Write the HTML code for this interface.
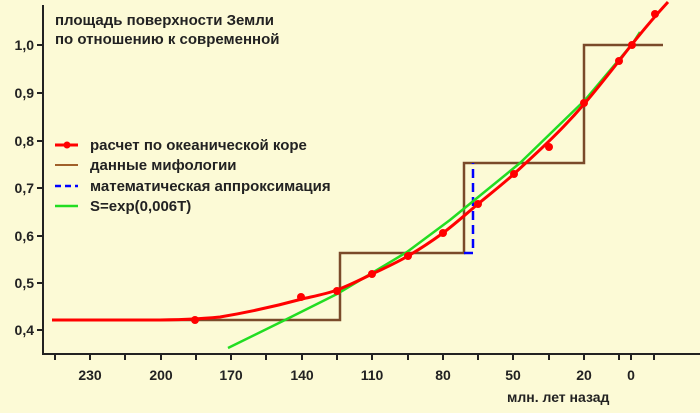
<!DOCTYPE html>
<html><head><meta charset="utf-8"><style>
body{margin:0;background:#fcfad6;}
svg{display:block;font-family:"Liberation Sans",sans-serif;font-weight:bold;}
</style></head><body>
<svg width="700" height="413" viewBox="0 0 700 413">
<rect width="700" height="413" fill="#fcfad6"/>
<line x1="43" y1="5" x2="43" y2="354" stroke="#222" stroke-width="2"/>
<line x1="42" y1="354" x2="700" y2="354" stroke="#222" stroke-width="2"/>
<g stroke="#222" stroke-width="2">
<line x1="37" y1="330" x2="43" y2="330"/><line x1="37" y1="283" x2="43" y2="283"/>
<line x1="37" y1="236" x2="43" y2="236"/><line x1="37" y1="188" x2="43" y2="188"/>
<line x1="37" y1="141" x2="43" y2="141"/><line x1="37" y1="93" x2="43" y2="93"/>
<line x1="37" y1="45" x2="43" y2="45"/>
<line x1="55" y1="354" x2="55" y2="360"/><line x1="90" y1="354" x2="90" y2="360"/>
<line x1="125" y1="354" x2="125" y2="360"/><line x1="161" y1="354" x2="161" y2="360"/>
<line x1="196" y1="354" x2="196" y2="360"/><line x1="231" y1="354" x2="231" y2="360"/>
<line x1="266" y1="354" x2="266" y2="360"/><line x1="302" y1="354" x2="302" y2="360"/>
<line x1="337" y1="354" x2="337" y2="360"/><line x1="372" y1="354" x2="372" y2="360"/>
<line x1="408" y1="354" x2="408" y2="360"/><line x1="443" y1="354" x2="443" y2="360"/>
<line x1="478" y1="354" x2="478" y2="360"/><line x1="513" y1="354" x2="513" y2="360"/>
<line x1="549" y1="354" x2="549" y2="360"/><line x1="584" y1="354" x2="584" y2="360"/>
<line x1="619" y1="354" x2="619" y2="360"/><line x1="631" y1="354" x2="631" y2="360"/>
<line x1="654" y1="354" x2="654" y2="360"/>
</g>
<g font-size="14" fill="#222" text-anchor="end">
<text x="34" y="335">0,4</text><text x="34" y="288">0,5</text><text x="34" y="241">0,6</text>
<text x="34" y="193">0,7</text><text x="34" y="146">0,8</text><text x="34" y="98">0,9</text>
<text x="34" y="50">1,0</text>
</g>
<g font-size="14" fill="#222" text-anchor="middle">
<text x="90" y="380">230</text><text x="161" y="380">200</text><text x="231" y="380">170</text>
<text x="302" y="380">140</text><text x="372" y="380">110</text><text x="443" y="380">80</text>
<text x="513" y="380">50</text><text x="584" y="380">20</text><text x="631" y="380">0</text>
</g>
<text x="507" y="402" font-size="14" fill="#222">млн. лет назад</text>
<text x="55" y="25" font-size="15" fill="#222">площадь поверхности Земли</text>
<text x="55" y="44" font-size="15" fill="#222">по отношению к современной</text>
<line x1="55" y1="145" x2="78" y2="145" stroke="#f00" stroke-width="3"/><circle cx="67" cy="145" r="3.5" fill="#f00"/>
<line x1="55" y1="165" x2="78" y2="165" stroke="#a0602a" stroke-width="2"/>
<line x1="55" y1="186" x2="78" y2="186" stroke="#00f" stroke-width="2.5" stroke-dasharray="6,4"/>
<line x1="55" y1="206" x2="78" y2="206" stroke="#2d2" stroke-width="2.5"/>
<g font-size="15" fill="#222">
<text x="90" y="150">расчет по океанической коре</text>
<text x="90" y="170">данные мифологии</text>
<text x="90" y="191">математическая аппроксимация</text>
<text x="90" y="211">S=exp(0,006T)</text>
</g>
<polyline points="52,320 340,320 340,253 464,253 464,163 584,163 584,45 663,45" fill="none" stroke="#7a4a2a" stroke-width="2.5"/>
<polyline points="464,253 473,253 473,163" fill="none" stroke="#00f" stroke-width="2.5" stroke-dasharray="9,5"/>
<polyline points="228,348 287,319 337,294 407,252 450,220 520,163 585,100 633,43 640,32" fill="none" stroke="#2d2" stroke-width="2.5" stroke-linejoin="round"/>
<path d="M52,320 L150,320 C180,320 200,319 220,317 C250,312 280,305 302,299 C315,296 326,294 337,290 C350,285 360,280 372,274 C385,268 396,263 408,256 C420,249 432,241 443,233 C455,224 466,214 478,204 C490,194 503,184 515,173 C540,150 562,130 585,103 C602,83 618,62 633,43 C645,28 656,15 668,2" fill="none" stroke="#f00" stroke-width="3"/>
<g fill="#f00">
<circle cx="195" cy="320" r="4"/><circle cx="301" cy="297" r="4"/><circle cx="337" cy="291" r="4"/>
<circle cx="372" cy="274" r="4"/><circle cx="408" cy="256" r="4"/><circle cx="443" cy="233" r="4"/>
<circle cx="478" cy="204" r="4"/><circle cx="514" cy="174" r="4"/><circle cx="549" cy="147" r="4"/>
<circle cx="584" cy="103" r="4"/><circle cx="619" cy="61" r="4"/><circle cx="632" cy="45" r="4"/>
<circle cx="655" cy="14" r="4"/>
</g>
</svg>
</body></html>
